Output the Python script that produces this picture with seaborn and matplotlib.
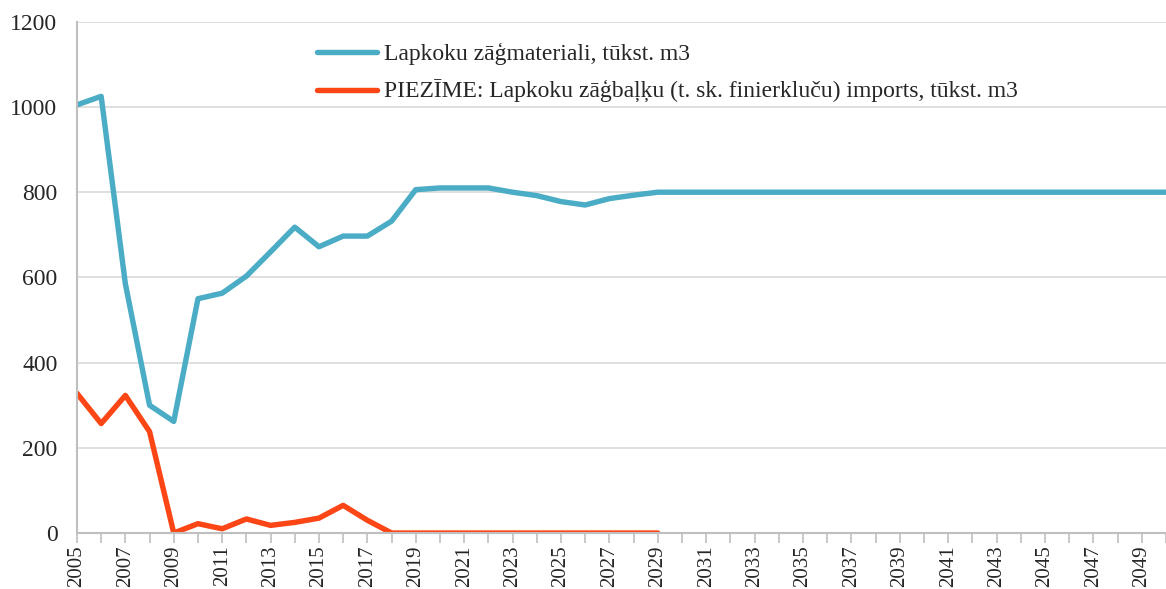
import matplotlib
matplotlib.use("Agg")
import matplotlib.pyplot as plt
import numpy as np
import pandas as pd
import seaborn as sns

# Data
years = list(range(2005, 2051))
sawn_wood = [1005, 1025, 585, 300, 262, 550, 563, 603, 660, 718,
             672, 697, 697, 732, 806, 810, 810, 810, 800, 792,
             778, 770, 785, 793, 800] + [800] * 21
log_imports = [328, 257, 323, 238, 0, 22, 10, 33, 18, 25,
               35, 65, 30, 0, 0, 0, 0, 0, 0, 0,
               0, 0, 0, 0, 0]

label_a = "Lapkoku zāģmateriali, tūkst. m3"
label_b = "PIEZĪME: Lapkoku zāģbaļķu (t. sk. finierkluču) imports, tūkst. m3"

df = pd.concat([
    pd.DataFrame({"year": years, "value": sawn_wood, "series": label_a}),
    pd.DataFrame({"year": years[:len(log_imports)], "value": log_imports, "series": label_b}),
])

sns.set_style("white")
plt.rcParams["font.family"] = ["Liberation Serif", "DejaVu Serif"]

fig, ax = plt.subplots(figsize=(11.66, 5.89), dpi=100)
fig.subplots_adjust(left=0.066, right=1.0, top=0.963, bottom=0.095)

sns.lineplot(data=df, x="year", y="value", hue="series", ax=ax,
             palette={label_a: "#4bacc6", label_b: "#fc4616"},
             linewidth=3.9, legend=True)

ax.set_xlim(2005, 2050)
ax.set_ylim(0, 1200)
ax.set_yticks(np.arange(0, 1201, 200))
ax.yaxis.grid(True, color="#d9d9d9", linewidth=1.2)
ax.set_axisbelow(True)

ax.set_xticks(years, minor=True)
ax.set_xticks(years[::2])
ax.set_xticklabels([str(y) for y in years[::2]], rotation=90)
ax.tick_params(axis="x", which="both", direction="out", length=7, width=1.2,
               color="#bfbfbf", bottom=True, labelsize=15, pad=2)
ax.tick_params(axis="y", length=0, labelsize=17, pad=14)

for s in ["top", "right"]:
    ax.spines[s].set_visible(False)
for s in ["left", "bottom"]:
    ax.spines[s].set_color("#bfbfbf")
    ax.spines[s].set_linewidth(1.5)

ax.set_xlabel("")
ax.set_ylabel("")

leg = ax.legend(loc="upper left", bbox_to_anchor=(0.22, 0.958), frameon=False,
                fontsize=17, handlelength=2.55, labelspacing=0.62, handletextpad=0.3,
                borderpad=0, borderaxespad=0)

fig.savefig("out.png", dpi=100)
